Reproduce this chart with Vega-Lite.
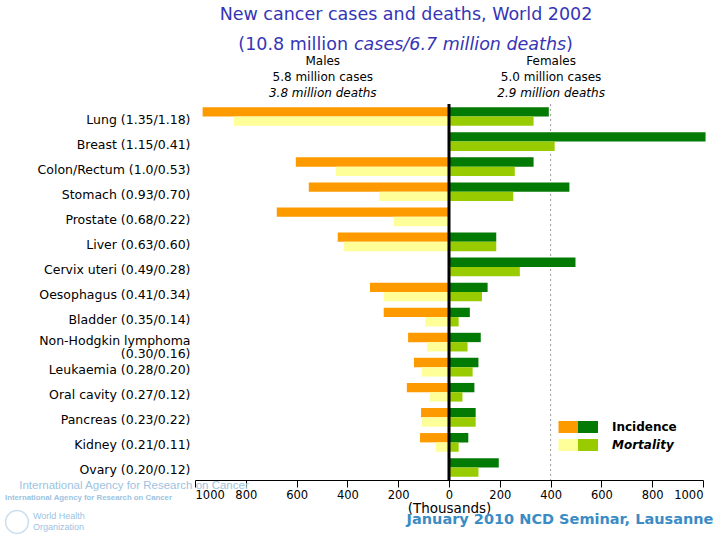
{
  "$schema": "https://vega.github.io/schema/vega-lite/v6.json",
  "width": 508,
  "height": 376,
  "autosize": {"type": "none"},
  "padding": {"left": 195, "top": 104, "right": 17, "bottom": 60},
  "background": "white",
  "config": {"font": "DejaVu Sans", "view": {"stroke": null}},
  "title": {
    "text": "New cancer cases and deaths, World 2002",
    "frame": "group",
    "anchor": "middle",
    "dx": -43,
    "offset": 13,
    "fontSize": 17.5,
    "fontWeight": "normal",
    "color": "#3535b5"
  },
  "datasets": {
    "bars": [
      {"site": "Lung (1.35/1.18)", "sex": "Male", "measure": "Incidence", "value": 970},
      {"site": "Lung (1.35/1.18)", "sex": "Male", "measure": "Mortality", "value": 847},
      {"site": "Lung (1.35/1.18)", "sex": "Female", "measure": "Incidence", "value": 393},
      {"site": "Lung (1.35/1.18)", "sex": "Female", "measure": "Mortality", "value": 333},
      {"site": "Breast (1.15/0.41)", "sex": "Female", "measure": "Incidence", "value": 1010},
      {"site": "Breast (1.15/0.41)", "sex": "Female", "measure": "Mortality", "value": 416},
      {"site": "Colon/Rectum (1.0/0.53)", "sex": "Male", "measure": "Incidence", "value": 603},
      {"site": "Colon/Rectum (1.0/0.53)", "sex": "Male", "measure": "Mortality", "value": 445},
      {"site": "Colon/Rectum (1.0/0.53)", "sex": "Female", "measure": "Incidence", "value": 333},
      {"site": "Colon/Rectum (1.0/0.53)", "sex": "Female", "measure": "Mortality", "value": 259},
      {"site": "Stomach (0.93/0.70)", "sex": "Male", "measure": "Incidence", "value": 552},
      {"site": "Stomach (0.93/0.70)", "sex": "Male", "measure": "Mortality", "value": 275},
      {"site": "Stomach (0.93/0.70)", "sex": "Female", "measure": "Incidence", "value": 474},
      {"site": "Stomach (0.93/0.70)", "sex": "Female", "measure": "Mortality", "value": 253},
      {"site": "Prostate (0.68/0.22)", "sex": "Male", "measure": "Incidence", "value": 678},
      {"site": "Prostate (0.68/0.22)", "sex": "Male", "measure": "Mortality", "value": 217},
      {"site": "Liver (0.63/0.60)", "sex": "Male", "measure": "Incidence", "value": 438},
      {"site": "Liver (0.63/0.60)", "sex": "Male", "measure": "Mortality", "value": 414},
      {"site": "Liver (0.63/0.60)", "sex": "Female", "measure": "Incidence", "value": 186},
      {"site": "Liver (0.63/0.60)", "sex": "Female", "measure": "Mortality", "value": 186},
      {"site": "Cervix uteri (0.49/0.28)", "sex": "Female", "measure": "Incidence", "value": 498},
      {"site": "Cervix uteri (0.49/0.28)", "sex": "Female", "measure": "Mortality", "value": 279},
      {"site": "Oesophagus (0.41/0.34)", "sex": "Male", "measure": "Incidence", "value": 311},
      {"site": "Oesophagus (0.41/0.34)", "sex": "Male", "measure": "Mortality", "value": 257},
      {"site": "Oesophagus (0.41/0.34)", "sex": "Female", "measure": "Incidence", "value": 152},
      {"site": "Oesophagus (0.41/0.34)", "sex": "Female", "measure": "Mortality", "value": 130},
      {"site": "Bladder (0.35/0.14)", "sex": "Male", "measure": "Incidence", "value": 257},
      {"site": "Bladder (0.35/0.14)", "sex": "Male", "measure": "Mortality", "value": 94},
      {"site": "Bladder (0.35/0.14)", "sex": "Female", "measure": "Incidence", "value": 82},
      {"site": "Bladder (0.35/0.14)", "sex": "Female", "measure": "Mortality", "value": 38},
      {"site": "Non-Hodgkin lymphoma|(0.30/0.16)", "sex": "Male", "measure": "Incidence", "value": 161},
      {"site": "Non-Hodgkin lymphoma|(0.30/0.16)", "sex": "Male", "measure": "Mortality", "value": 87},
      {"site": "Non-Hodgkin lymphoma|(0.30/0.16)", "sex": "Female", "measure": "Incidence", "value": 125},
      {"site": "Non-Hodgkin lymphoma|(0.30/0.16)", "sex": "Female", "measure": "Mortality", "value": 73},
      {"site": "Leukaemia (0.28/0.20)", "sex": "Male", "measure": "Incidence", "value": 138},
      {"site": "Leukaemia (0.28/0.20)", "sex": "Male", "measure": "Mortality", "value": 107},
      {"site": "Leukaemia (0.28/0.20)", "sex": "Female", "measure": "Incidence", "value": 116},
      {"site": "Leukaemia (0.28/0.20)", "sex": "Female", "measure": "Mortality", "value": 93},
      {"site": "Oral cavity (0.27/0.12)", "sex": "Male", "measure": "Incidence", "value": 166},
      {"site": "Oral cavity (0.27/0.12)", "sex": "Male", "measure": "Mortality", "value": 76},
      {"site": "Oral cavity (0.27/0.12)", "sex": "Female", "measure": "Incidence", "value": 100},
      {"site": "Oral cavity (0.27/0.12)", "sex": "Female", "measure": "Mortality", "value": 53},
      {"site": "Pancreas (0.23/0.22)", "sex": "Male", "measure": "Incidence", "value": 110},
      {"site": "Pancreas (0.23/0.22)", "sex": "Male", "measure": "Mortality", "value": 107},
      {"site": "Pancreas (0.23/0.22)", "sex": "Female", "measure": "Incidence", "value": 105},
      {"site": "Pancreas (0.23/0.22)", "sex": "Female", "measure": "Mortality", "value": 105},
      {"site": "Kidney (0.21/0.11)", "sex": "Male", "measure": "Incidence", "value": 114},
      {"site": "Kidney (0.21/0.11)", "sex": "Male", "measure": "Mortality", "value": 52},
      {"site": "Kidney (0.21/0.11)", "sex": "Female", "measure": "Incidence", "value": 76},
      {"site": "Kidney (0.21/0.11)", "sex": "Female", "measure": "Mortality", "value": 38},
      {"site": "Ovary (0.20/0.12)", "sex": "Female", "measure": "Incidence", "value": 196},
      {"site": "Ovary (0.20/0.12)", "sex": "Female", "measure": "Mortality", "value": 116}
    ]
  },
  "layer": [
    {
      "data": {"values": [{}]},
      "mark": {"type": "rule", "color": "#9a9a9a", "strokeWidth": 1, "strokeDash": [2, 3]},
      "encoding": {"x": {"datum": 400, "type": "quantitative"}}
    },
    {
      "data": {"name": "bars"},
      "transform": [
        {"filter": "datum.sex == 'Male'"},
        {"calculate": "-datum.value", "as": "signed"}
      ],
      "mark": {"type": "bar"},
      "encoding": {
        "y": {
          "field": "site",
          "type": "nominal",
          "scale": {
            "domain": ["Lung (1.35/1.18)", "Breast (1.15/0.41)", "Colon/Rectum (1.0/0.53)", "Stomach (0.93/0.70)", "Prostate (0.68/0.22)", "Liver (0.63/0.60)", "Cervix uteri (0.49/0.28)", "Oesophagus (0.41/0.34)", "Bladder (0.35/0.14)", "Non-Hodgkin lymphoma|(0.30/0.16)", "Leukaemia (0.28/0.20)", "Oral cavity (0.27/0.12)", "Pancreas (0.23/0.22)", "Kidney (0.21/0.11)", "Ovary (0.20/0.12)"],
            "paddingInner": 0.255,
            "paddingOuter": 0.1275
          },
          "axis": {
            "title": null,
            "domain": false,
            "ticks": false,
            "labelPadding": 5,
            "labelOffset": {"condition": {"test": "indexof(datum.value, '|') >= 0", "value": -1}, "value": 3},
            "labelFontSize": 12.5,
            "labelColor": "black",
            "labelLineHeight": 13,
            "labelExpr": "split(datum.value, '|')"
          }
        },
        "yOffset": {
          "field": "measure",
          "type": "nominal",
          "scale": {"domain": ["Incidence", "Mortality"], "paddingInner": 0, "paddingOuter": 0}
        },
        "x": {
          "field": "signed",
          "type": "quantitative",
          "scale": {"domain": [-1000, 1000], "nice": false},
          "axis": {
            "values": [-1000, -800, -600, -400, -200, 0, 200, 400, 600, 800, 1000],
            "labelExpr": "abs(datum.value)",
            "grid": false,
            "domainColor": "black",
            "tickColor": "black",
            "tickSize": 7,
            "labelPadding": 2,
            "labelFontSize": 11.5,
            "labelColor": "black",
            "title": "(Thousands)",
            "titleFontWeight": "normal",
            "titleFontSize": 13.5,
            "titleColor": "black",
            "titlePadding": 1
          }
        },
        "color": {
          "field": "measure",
          "type": "nominal",
          "scale": {"domain": ["Incidence", "Mortality"], "range": ["#FD9A00", "#FFFF99"]},
          "legend": {
            "orient": "none",
            "legendX": 363.5,
            "legendY": 313,
            "title": null,
            "padding": 0,
            "labelExpr": "''",
            "labelOffset": 0,
            "rowPadding": 2,
            "symbolType": "M-1,-0.6H1V0.6H-1Z",
            "symbolSize": 400,
            "symbolStrokeWidth": 0,
            "symbolOpacity": 1
          }
        }
      }
    },
    {
      "data": {"name": "bars"},
      "transform": [{"filter": "datum.sex == 'Female'"}],
      "mark": {"type": "bar"},
      "encoding": {
        "y": {"field": "site", "type": "nominal"},
        "yOffset": {"field": "measure", "type": "nominal"},
        "x": {"field": "value", "type": "quantitative"},
        "color": {
          "field": "measure",
          "type": "nominal",
          "scale": {"domain": ["Incidence", "Mortality"], "range": ["#037A03", "#99CC00"]},
          "legend": {
            "orient": "none",
            "legendX": 383,
            "legendY": 313,
            "title": null,
            "padding": 0,
            "labelOffset": 14,
            "rowPadding": 2,
            "labelFontSize": 12,
            "labelFontWeight": "bold",
            "labelColor": "black",
            "labelFontStyle": {"expr": "datum.label == 'Mortality' ? 'italic' : 'normal'"},
            "symbolType": "M-1,-0.6H1V0.6H-1Z",
            "symbolSize": 400,
            "symbolStrokeWidth": 0,
            "symbolOpacity": 1
          }
        }
      }
    },
    {
      "data": {"values": [{}]},
      "mark": {"type": "rule", "color": "black", "strokeWidth": 3},
      "encoding": {"x": {"datum": 0, "type": "quantitative"}}
    },
    {
      "data": {"values": [{}]},
      "mark": {"type": "text", "text": "(10.8 million", "fontSize": 17.5, "align": "right", "baseline": "middle", "x": 153, "y": -59, "color": "#3535b5"},
      "encoding": {}
    },
    {
      "data": {"values": [{}]},
      "mark": {"type": "text", "text": "cases/6.7 million deaths", "fontSize": 17.5, "fontStyle": "italic", "align": "left", "baseline": "middle", "x": 159, "y": -59, "color": "#3535b5"},
      "encoding": {}
    },
    {
      "data": {"values": [{}]},
      "mark": {"type": "text", "text": ")", "fontSize": 17.5, "align": "left", "baseline": "middle", "x": 371, "y": -59, "color": "#3535b5"},
      "encoding": {}
    },
    {
      "data": {"values": [{}]},
      "mark": {"type": "text", "text": "Males", "fontSize": 12, "y": -43, "color": "black"},
      "encoding": {"x": {"datum": -497, "type": "quantitative"}}
    },
    {
      "data": {"values": [{}]},
      "mark": {"type": "text", "text": "5.8 million cases", "fontSize": 12, "y": -27, "color": "black"},
      "encoding": {"x": {"datum": -497, "type": "quantitative"}}
    },
    {
      "data": {"values": [{}]},
      "mark": {"type": "text", "text": "3.8 million deaths", "fontSize": 12, "fontStyle": "italic", "y": -11, "color": "black"},
      "encoding": {"x": {"datum": -497, "type": "quantitative"}}
    },
    {
      "data": {"values": [{}]},
      "mark": {"type": "text", "text": "Females", "fontSize": 12, "y": -43, "color": "black"},
      "encoding": {"x": {"datum": 402, "type": "quantitative"}}
    },
    {
      "data": {"values": [{}]},
      "mark": {"type": "text", "text": "5.0 million cases", "fontSize": 12, "y": -27, "color": "black"},
      "encoding": {"x": {"datum": 402, "type": "quantitative"}}
    },
    {
      "data": {"values": [{}]},
      "mark": {"type": "text", "text": "2.9 million deaths", "fontSize": 12, "fontStyle": "italic", "y": -11, "color": "black"},
      "encoding": {"x": {"datum": 402, "type": "quantitative"}}
    },
    {
      "data": {"values": [{}]},
      "mark": {"type": "text", "text": "International Agency for Research on Cancer", "font": "Liberation Sans", "fontSize": 11.5, "x": -61, "y": 382, "color": "#9cc3df"},
      "encoding": {}
    },
    {
      "data": {"values": [{}]},
      "mark": {"type": "text", "text": "International Agency for Research on Cancer", "font": "Liberation Sans", "fontWeight": "bold", "fontSize": 7.8, "align": "left", "x": -190, "y": 394, "color": "#9cc3df"},
      "encoding": {}
    },
    {
      "data": {"values": [{}]},
      "mark": {"type": "point", "shape": "circle", "size": 520, "filled": false, "strokeWidth": 1.5, "x": -178, "y": 418, "color": "#b5d1e6"},
      "encoding": {}
    },
    {
      "data": {"values": [{}]},
      "mark": {"type": "text", "text": "World Health", "font": "Liberation Sans", "fontSize": 9, "align": "left", "x": -162, "y": 412, "color": "#9cc3df"},
      "encoding": {}
    },
    {
      "data": {"values": [{}]},
      "mark": {"type": "text", "text": "Organization", "font": "Liberation Sans", "fontSize": 9, "align": "left", "x": -162, "y": 423, "color": "#9cc3df"},
      "encoding": {}
    },
    {
      "data": {"values": [{}]},
      "mark": {"type": "text", "text": "January 2010 NCD Seminar, Lausanne", "fontSize": 14.5, "fontWeight": "bold", "x": 365, "y": 416, "color": "#3b8cc4"},
      "encoding": {}
    }
  ],
  "resolve": {"scale": {"color": "independent"}, "legend": {"color": "independent"}}
}
